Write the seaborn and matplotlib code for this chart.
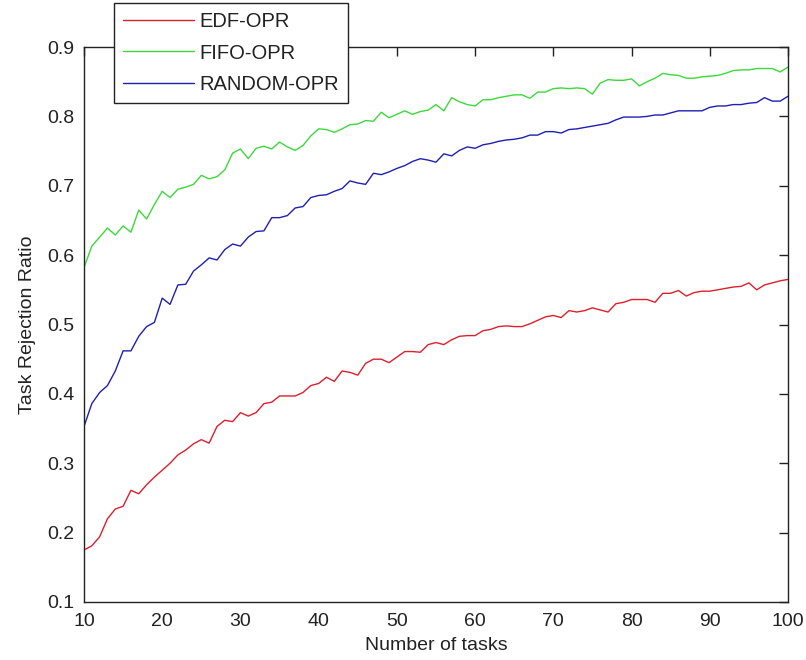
import numpy as np
import pandas as pd
import matplotlib
matplotlib.use("Agg")
import matplotlib.pyplot as plt
import seaborn as sns

# Number of tasks (x axis)
num_tasks = list(range(10, 101))

edf_opr = [
    0.175, 0.181, 0.194, 0.220, 0.234, 0.238, 0.261, 0.256, 0.269, 0.280,
    0.290, 0.300, 0.312, 0.319, 0.328, 0.334, 0.329, 0.353, 0.362, 0.360,
    0.373, 0.368, 0.373, 0.386, 0.388, 0.397, 0.397, 0.397, 0.402, 0.412,
    0.415, 0.424, 0.418, 0.433, 0.431, 0.427, 0.444, 0.450, 0.450, 0.445,
    0.453, 0.461, 0.461, 0.460, 0.471, 0.474, 0.471, 0.478, 0.483, 0.484,
    0.484, 0.491, 0.493, 0.497, 0.498, 0.497, 0.497, 0.501, 0.506, 0.511,
    0.513, 0.510, 0.520, 0.518, 0.520, 0.524, 0.521, 0.518, 0.530, 0.532,
    0.536, 0.536, 0.536, 0.532, 0.545, 0.545, 0.549, 0.541, 0.546, 0.548,
    0.548, 0.550, 0.552, 0.554, 0.555, 0.560, 0.550, 0.557, 0.560, 0.563,
    0.565,
]

fifo_opr = [
    0.582, 0.613, 0.626, 0.639, 0.629, 0.642, 0.633, 0.665, 0.652, 0.673,
    0.692, 0.683, 0.695, 0.698, 0.702, 0.715, 0.710, 0.713, 0.723, 0.747,
    0.753, 0.739, 0.754, 0.757, 0.753, 0.763, 0.756, 0.751, 0.758, 0.772,
    0.782, 0.781, 0.777, 0.782, 0.788, 0.789, 0.794, 0.793, 0.806, 0.798,
    0.803, 0.808, 0.803, 0.807, 0.809, 0.817, 0.808, 0.827, 0.821, 0.817,
    0.815, 0.824, 0.824, 0.827, 0.829, 0.831, 0.831, 0.826, 0.835, 0.835,
    0.840, 0.841, 0.840, 0.841, 0.840, 0.832, 0.848, 0.853, 0.852, 0.852,
    0.854, 0.844, 0.850, 0.855, 0.862, 0.860, 0.859, 0.855, 0.855, 0.857,
    0.858, 0.859, 0.862, 0.866, 0.867, 0.867, 0.869, 0.869, 0.869, 0.864,
    0.871,
]

random_opr = [
    0.353, 0.386, 0.402, 0.412, 0.433, 0.462, 0.462, 0.483, 0.497, 0.503,
    0.538, 0.529, 0.557, 0.558, 0.577, 0.586, 0.596, 0.593, 0.608, 0.616,
    0.613, 0.626, 0.634, 0.635, 0.654, 0.654, 0.657, 0.668, 0.670, 0.683,
    0.686, 0.687, 0.692, 0.696, 0.707, 0.704, 0.702, 0.718, 0.716, 0.720,
    0.725, 0.729, 0.735, 0.739, 0.737, 0.734, 0.746, 0.743, 0.751, 0.756,
    0.754, 0.759, 0.761, 0.764, 0.766, 0.767, 0.769, 0.773, 0.773, 0.778,
    0.778, 0.776, 0.781, 0.782, 0.784, 0.786, 0.788, 0.790, 0.795, 0.799,
    0.799, 0.799, 0.800, 0.802, 0.802, 0.805, 0.808, 0.808, 0.808, 0.808,
    0.813, 0.815, 0.815, 0.817, 0.817, 0.819, 0.820, 0.827, 0.822, 0.822,
    0.829,
]

series_names = ["EDF-OPR", "FIFO-OPR", "RANDOM-OPR"]
series_colors = ["#dd1f2c", "#3cd93c", "#1f1fb4"]

x_ticks = [10, 20, 30, 40, 50, 60, 70, 80, 90, 100]
y_ticks = [0.1, 0.2, 0.3, 0.4, 0.5, 0.6, 0.7, 0.8, 0.9]

df = pd.concat(
    [
        pd.DataFrame({"tasks": num_tasks, "ratio": vals, "policy": name})
        for name, vals in zip(series_names, [edf_opr, fifo_opr, random_opr])
    ],
    ignore_index=True,
)

sns.set_theme(style="white")
plt.rcParams["font.family"] = ["Liberation Sans", "DejaVu Sans"]

fig = plt.figure(figsize=(8.06, 6.60), dpi=100)
ax = fig.add_axes([84 / 806, 1 - 602 / 660, (788 - 84) / 806, (602 - 47) / 660])

sns.lineplot(
    data=df, x="tasks", y="ratio", hue="policy",
    hue_order=series_names, palette=series_colors,
    linewidth=1.0, ax=ax, legend=False,
)

ax.set_xlim(10, 100)
ax.set_ylim(0.1, 0.9)
ax.set_xticks(x_ticks)
ax.set_yticks(y_ticks)
ax.set_xticklabels([str(t) for t in x_ticks])
ax.set_yticklabels([f"{t:.1f}" for t in y_ticks])

ax.tick_params(
    direction="in", length=6.5, width=1.0, colors="#222222",
    labelsize=14, top=True, right=True, pad=7,
)
ax.tick_params(axis="x", pad=8)
for s in ax.spines.values():
    s.set_visible(True)
    s.set_color("#222222")
    s.set_linewidth(1.0)

ax.set_xlabel("Number of tasks", fontsize=14, color="#222222", labelpad=5)
ax.set_ylabel("Task Rejection Ratio", fontsize=14, color="#222222", labelpad=8)

handles = [
    plt.Line2D([], [], color=c, linewidth=1.0) for c in series_colors
]
leg = fig.legend(
    handles, series_names,
    loc="upper left", bbox_to_anchor=(114 / 806, 1 - 3 / 660),
    frameon=True, fancybox=False, framealpha=1.0, edgecolor="#222222",
    fontsize=14.5, handlelength=3.5, handletextpad=0.3,
    labelspacing=0.62, borderpad=0.45, borderaxespad=0.0,
)
leg.get_frame().set_linewidth(1.0)
for t in leg.get_texts():
    t.set_color("#222222")

fig.savefig("out.png", dpi=100, facecolor="white")
